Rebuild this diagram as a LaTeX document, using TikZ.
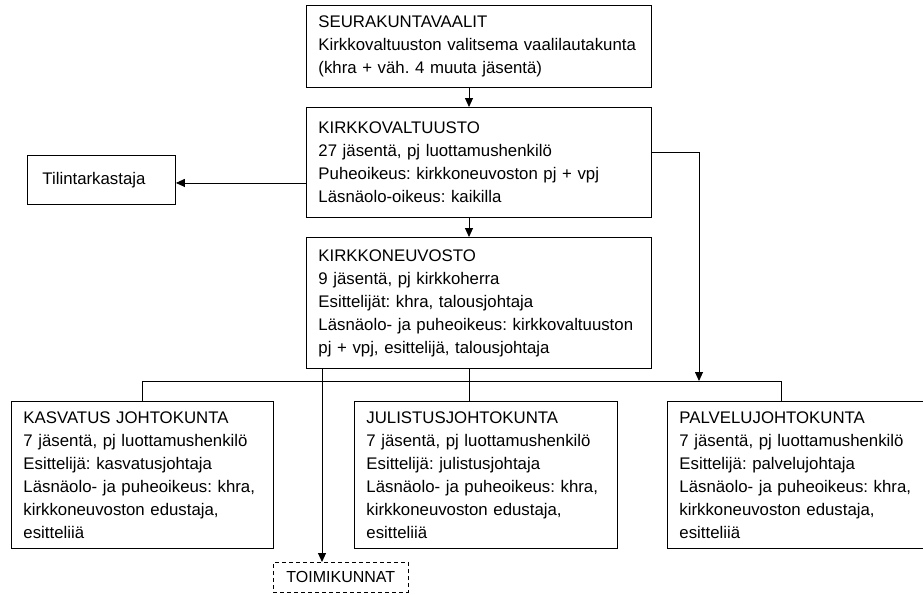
\documentclass[tikz,border=0pt]{standalone}
\usepackage{fontspec}
\setmainfont{Liberation Sans}
\usetikzlibrary{arrows.meta}
\frenchspacing

\begin{document}
\begin{tikzpicture}[x=1pt,y=-1pt,line width=0.9pt,>={Triangle[length=9pt,width=8pt]},
  box/.style={draw,anchor=north west,align=left,inner xsep=12pt,inner ysep=0pt,
    font=\fontsize{16.8}{23}\selectfont}]
\useasboundingbox (0,0) rectangle (923,594);

\node[box,text width=321pt,minimum height=82pt] (vaalit) at (306,5)
  {SEURAKUNTAVAALIT\\Kirkkovaltuuston valitsema vaalilautakunta\\(khra + väh. 4 muuta jäsentä)};
\node[box,text width=321pt,minimum height=110pt] (valtuusto) at (306,107)
  {KIRKKOVALTUUSTO\\27 jäsentä, pj luottamushenkilö\\Puheoikeus: kirkkoneuvoston pj + vpj\\Läsnäolo-oikeus: kaikilla};
\node[box,text width=321pt,minimum height=131pt] (neuvosto) at (306,237)
  {KIRKKONEUVOSTO\\9 jäsentä, pj kirkkoherra\\Esittelijät: khra, talousjohtaja\\Läsnäolo- ja puheoikeus: kirkkovaltuuston\\pj + vpj, esittelijä, talousjohtaja};
\node[box,inner xsep=15pt,text width=118pt,minimum height=49pt] (tilin) at (27,155) {Tilintarkastaja};

\node[box,text width=238pt,minimum height=147pt] (kasvatus) at (11,401)
  {KASVATUS JOHTOKUNTA\\7 jäsentä, pj luottamushenkilö\\Esittelijä: kasvatusjohtaja\\Läsnäolo- ja puheoikeus: khra,\\kirkkoneuvoston edustaja,\\esitteliiä};
\node[box,text width=239pt,minimum height=147pt] (julistus) at (354,401)
  {JULISTUSJOHTOKUNTA\\7 jäsentä, pj luottamushenkilö\\Esittelijä: julistusjohtaja\\Läsnäolo- ja puheoikeus: khra,\\kirkkoneuvoston edustaja,\\esitteliiä};
\node[box,text width=238pt,minimum height=147pt] (palvelu) at (667,401)
  {PALVELUJOHTOKUNTA\\7 jäsentä, pj luottamushenkilö\\Esittelijä: palvelujohtaja\\Läsnäolo- ja puheoikeus: khra,\\kirkkoneuvoston edustaja,\\esitteliiä};
\node[box,dash pattern=on 4pt off 3pt,inner xsep=13pt,minimum height=30pt,
  font=\fontsize{16}{20}\selectfont] (toimikunnat) at (273,562) {TOIMIKUNNAT};

%\coordinate columns for the connectors
\coordinate (spine) at (469,0);
\coordinate (tcol) at (322,0);
\coordinate (rcol) at (699,0);
\coordinate (pcol) at (781,0);
\coordinate (bus) at (0,381);
\coordinate (tilinin) at ([yshift=-3pt]tilin.east);
\coordinate (valtout) at ([yshift=10pt]valtuusto.east);

\path[draw,->] (vaalit.south -| spine) -- (valtuusto.north -| spine);
\path[draw,->] (valtuusto.south -| spine) -- (neuvosto.north -| spine);
\path[draw,->] (valtuusto.west |- tilinin) -- (tilinin);
\path[draw,->] (valtout) -- (valtout -| rcol) -- (bus -| rcol);
\path[draw] (neuvosto.south -| spine) -- (julistus.north -| spine);
\path[draw] (kasvatus.north) |- (bus -| pcol) -- (palvelu.north -| pcol);
\path[draw,->] (neuvosto.south -| tcol) -- (toimikunnat.north -| tcol);
\end{tikzpicture}
\end{document}
